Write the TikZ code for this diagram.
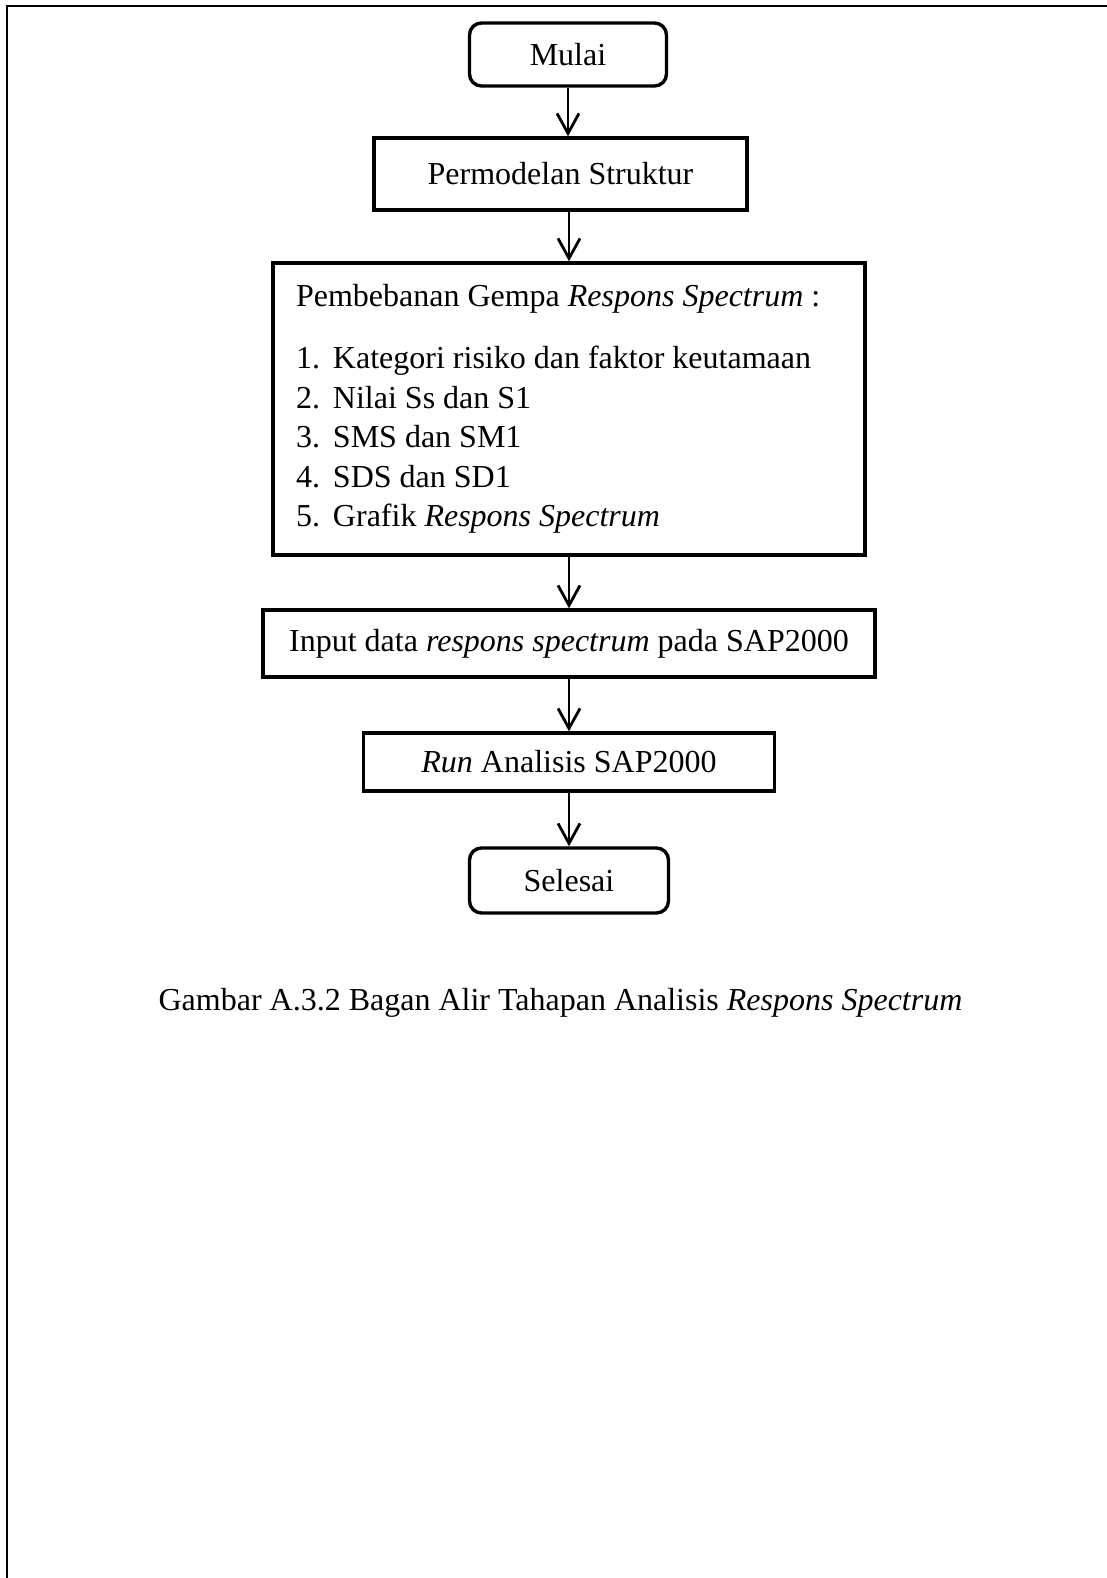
\documentclass[tikz,border=0pt]{standalone}
\usepackage{fontspec}
\setmainfont{Liberation Serif}
\usetikzlibrary{arrows.meta}
\begin{document}
\begin{tikzpicture}[x=0.5pt,y=-0.5pt,
  base/.style={draw=black, line width=1.7pt, inner sep=0pt, align=center,
    font=\fontsize{16pt}{19.75pt}\selectfont},
  procbox/.style={base},
  termbox/.style={base, rounded corners=6pt},
  arr/.style={line width=1.4pt, -{Straight Barb[length=10pt,width=11pt,line width=1.4pt]}},
  border/.style={line width=1.4pt}
]
\useasboundingbox (0,0) rectangle (1107,1578);
\draw[border] (1107,6) -- (7,6) -- (7,1578);

\node[termbox, minimum width=98.5pt, minimum height=31.5pt] (mulai) at (568,54.5) {Mulai};
\node[procbox, minimum width=186.5pt, minimum height=36pt] (perm) at (560.5,174) {Permodelan Struktur};
\node[procbox, minimum height=146pt, text width=273pt, inner xsep=11.5pt, align=flush left] (pb) at (569,409)
 {Pembebanan Gempa \textit{Respons Spectrum} :\\[11.25pt]
  \makebox[18.5pt][l]{1.}Kategori risiko dan faktor keutamaan\\
  \makebox[18.5pt][l]{2.}Nilai Ss dan S1\\
  \makebox[18.5pt][l]{3.}SMS dan SM1\\
  \makebox[18.5pt][l]{4.}SDS dan SD1\\
  \makebox[18.5pt][l]{5.}Grafik \textit{Respons Spectrum}};
\node[procbox, minimum width=306pt, minimum height=33.5pt] (inp) at (569,643.5) {Input data \textit{respons spectrum} pada SAP2000};
\node[procbox, minimum width=205.5pt, minimum height=29pt] (run) at (569,762) {\textit{Run} Analisis SAP2000};
\node[termbox, minimum width=99.5pt, minimum height=32.5pt] (sel) at (569,880.5) {Selesai};

\draw[arr] (mulai.south) -- (mulai.south |- perm.north);
\draw[arr] (pb.north |- perm.south) -- (pb.north);
\draw[arr] (pb.south) -- (inp.north);
\draw[arr] (inp.south) -- (run.north);
\draw[arr] (run.south) -- (sel.north);

\node[anchor=base, font=\fontsize{16pt}{19.75pt}\selectfont] (cap) at (560.5,1010)
 {Gambar A.3.2 Bagan Alir Tahapan Analisis \textit{Respons Spectrum}};
\end{tikzpicture}
\end{document}
